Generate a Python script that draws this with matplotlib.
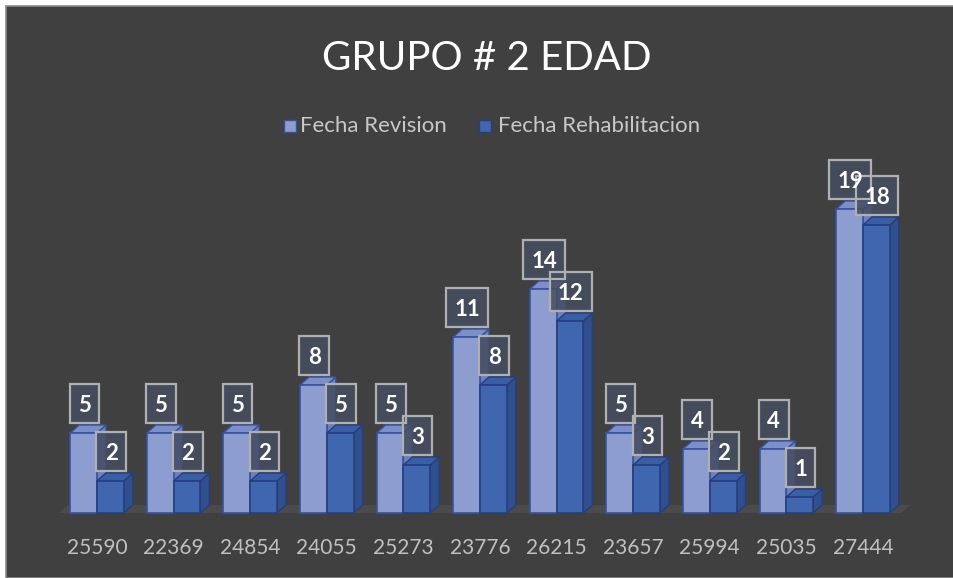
"""
GRUPO # 2 EDAD - 3D-style clustered bars (Revision vs Rehabilitacion)
"""

import matplotlib
matplotlib.use("Agg")
import matplotlib.pyplot as plt
from matplotlib.patches import Rectangle, Polygon

# ── Data ─────────────────────────────────────────────────────────────────────
categories = ["25590", "22369", "24854", "24055", "25273", "23776",
              "26215", "23657", "25994", "25035", "27444"]
revision = [5, 5, 5, 8, 5, 11, 14, 5, 4, 4, 19]
rehab    = [2, 2, 2, 5, 3, 8, 12, 3, 2, 1, 18]
series_names = ["Fecha Revision", "Fecha Rehabilitacion"]

# ── Style ────────────────────────────────────────────────────────────────────
FONT = "Lato"
BG = "#404040"
C_REV, C_REV_TOP, C_REV_SIDE, E_REV = "#8e9dcf", "#7d8fca", "#6d80bd", "#3653a0"
C_REH, C_REH_TOP, C_REH_SIDE, E_REH = "#4066b0", "#3a5ea6", "#2f4f8f", "#263f7c"

W, H = 954, 578
PX_X, PX_Y = 76.6, 16.0          # pixels per category / per unit
X0, Y0 = 97, 65                  # pixel of category 0 / floor (from bottom)
BW = 0.35                        # bar width
DX, DY = 9 / PX_X, 8 / PX_Y      # fake 3D depth

fig = plt.figure(figsize=(W / 100, H / 100), dpi=100, facecolor="white")
fig.patches.append(Rectangle((6 / W, 0), 1, 1 - 6 / H, transform=fig.transFigure,
                             facecolor=BG, edgecolor="#8a8a8a", lw=1.2, zorder=-5))

ax = fig.add_axes([0, 0, 1, 1])
ax.set_zorder(1)
ax.set_xlim(-X0 / PX_X, (W - X0) / PX_X)
ax.set_ylim(-Y0 / PX_Y, (H - Y0) / PX_Y)
ax.set_axis_off()
ax.patch.set_alpha(0)

n = len(categories)

# floor
ax.add_patch(Polygon([(-0.5, 0), (n - 0.5, 0), (n - 0.5 + DX, DY), (-0.5 + DX, DY)],
                     closed=True, facecolor="#4b4b4b", edgecolor="none", zorder=1))


def bar3d(x0, v, face, top, side, edge, z):
    ax.add_patch(Polygon([(x0 + BW, 0), (x0 + BW + DX, DY), (x0 + BW + DX, v + DY), (x0 + BW, v)],
                         closed=True, facecolor=side, edgecolor=edge, lw=1, zorder=z))
    ax.add_patch(Polygon([(x0, v), (x0 + BW, v), (x0 + BW + DX, v + DY), (x0 + DX, v + DY)],
                         closed=True, facecolor=top, edgecolor=edge, lw=1, zorder=z))
    ax.add_patch(Rectangle((x0, 0), BW, v, facecolor=face, edgecolor=edge, lw=1.2, zorder=z + 0.1))


def value_box(xc, v):
    s = f"{v}"
    bw = (17 + 12.5 * len(s)) / PX_X
    bh = 39 / PX_Y
    y0 = v + DY + 0.1
    ax.add_patch(Rectangle((xc - bw / 2, y0), bw, bh, facecolor="#454d60", alpha=0.85,
                           edgecolor="none", zorder=10))
    ax.add_patch(Rectangle((xc - bw / 2, y0), bw, bh, facecolor="none",
                           edgecolor="#b0b0b0", lw=1.6, zorder=10.1))
    ax.text(xc, y0 + bh / 2, s, ha="center", va="center_baseline", fontsize=16,
            fontweight="bold", color="white", family=FONT, zorder=10.2)


for i in range(n):
    bar3d(i - BW, revision[i], C_REV, C_REV_TOP, C_REV_SIDE, E_REV, 2 + i * 0.01)
    bar3d(i, rehab[i], C_REH, C_REH_TOP, C_REH_SIDE, E_REH, 3 + i * 0.01)

for i in range(n):
    value_box(i - BW / 2 + 0.01, revision[i])
    value_box(i + BW / 2 + 0.01, rehab[i])
    ax.text(i, -2.2, categories[i], ha="center", va="center", fontsize=15,
            color="#c0c0c0", family=FONT)

# title
fig.text(487 / W, 1 - 58 / H, "GRUPO # 2 EDAD", ha="center", va="center",
         fontsize=29, color="white", family=FONT, zorder=5)

# legend
ly = 1 - 126 / H
for (sx, tx), name, fc, ec in zip([(284, 300), (479, 498)], series_names,
                                  [C_REV, C_REH], [E_REV, E_REH]):
    fig.patches.append(Rectangle((sx / W, ly - 6 / H), 12 / W, 12 / H,
                                 transform=fig.transFigure, facecolor=fc,
                                 edgecolor=ec, lw=1, zorder=5))
    fig.text(tx / W, ly, name, ha="left", va="center", fontsize=16,
             color="#c8c8c8", family=FONT, zorder=5)

fig.savefig("out.png", dpi=100, facecolor="white")
plt.close(fig)
